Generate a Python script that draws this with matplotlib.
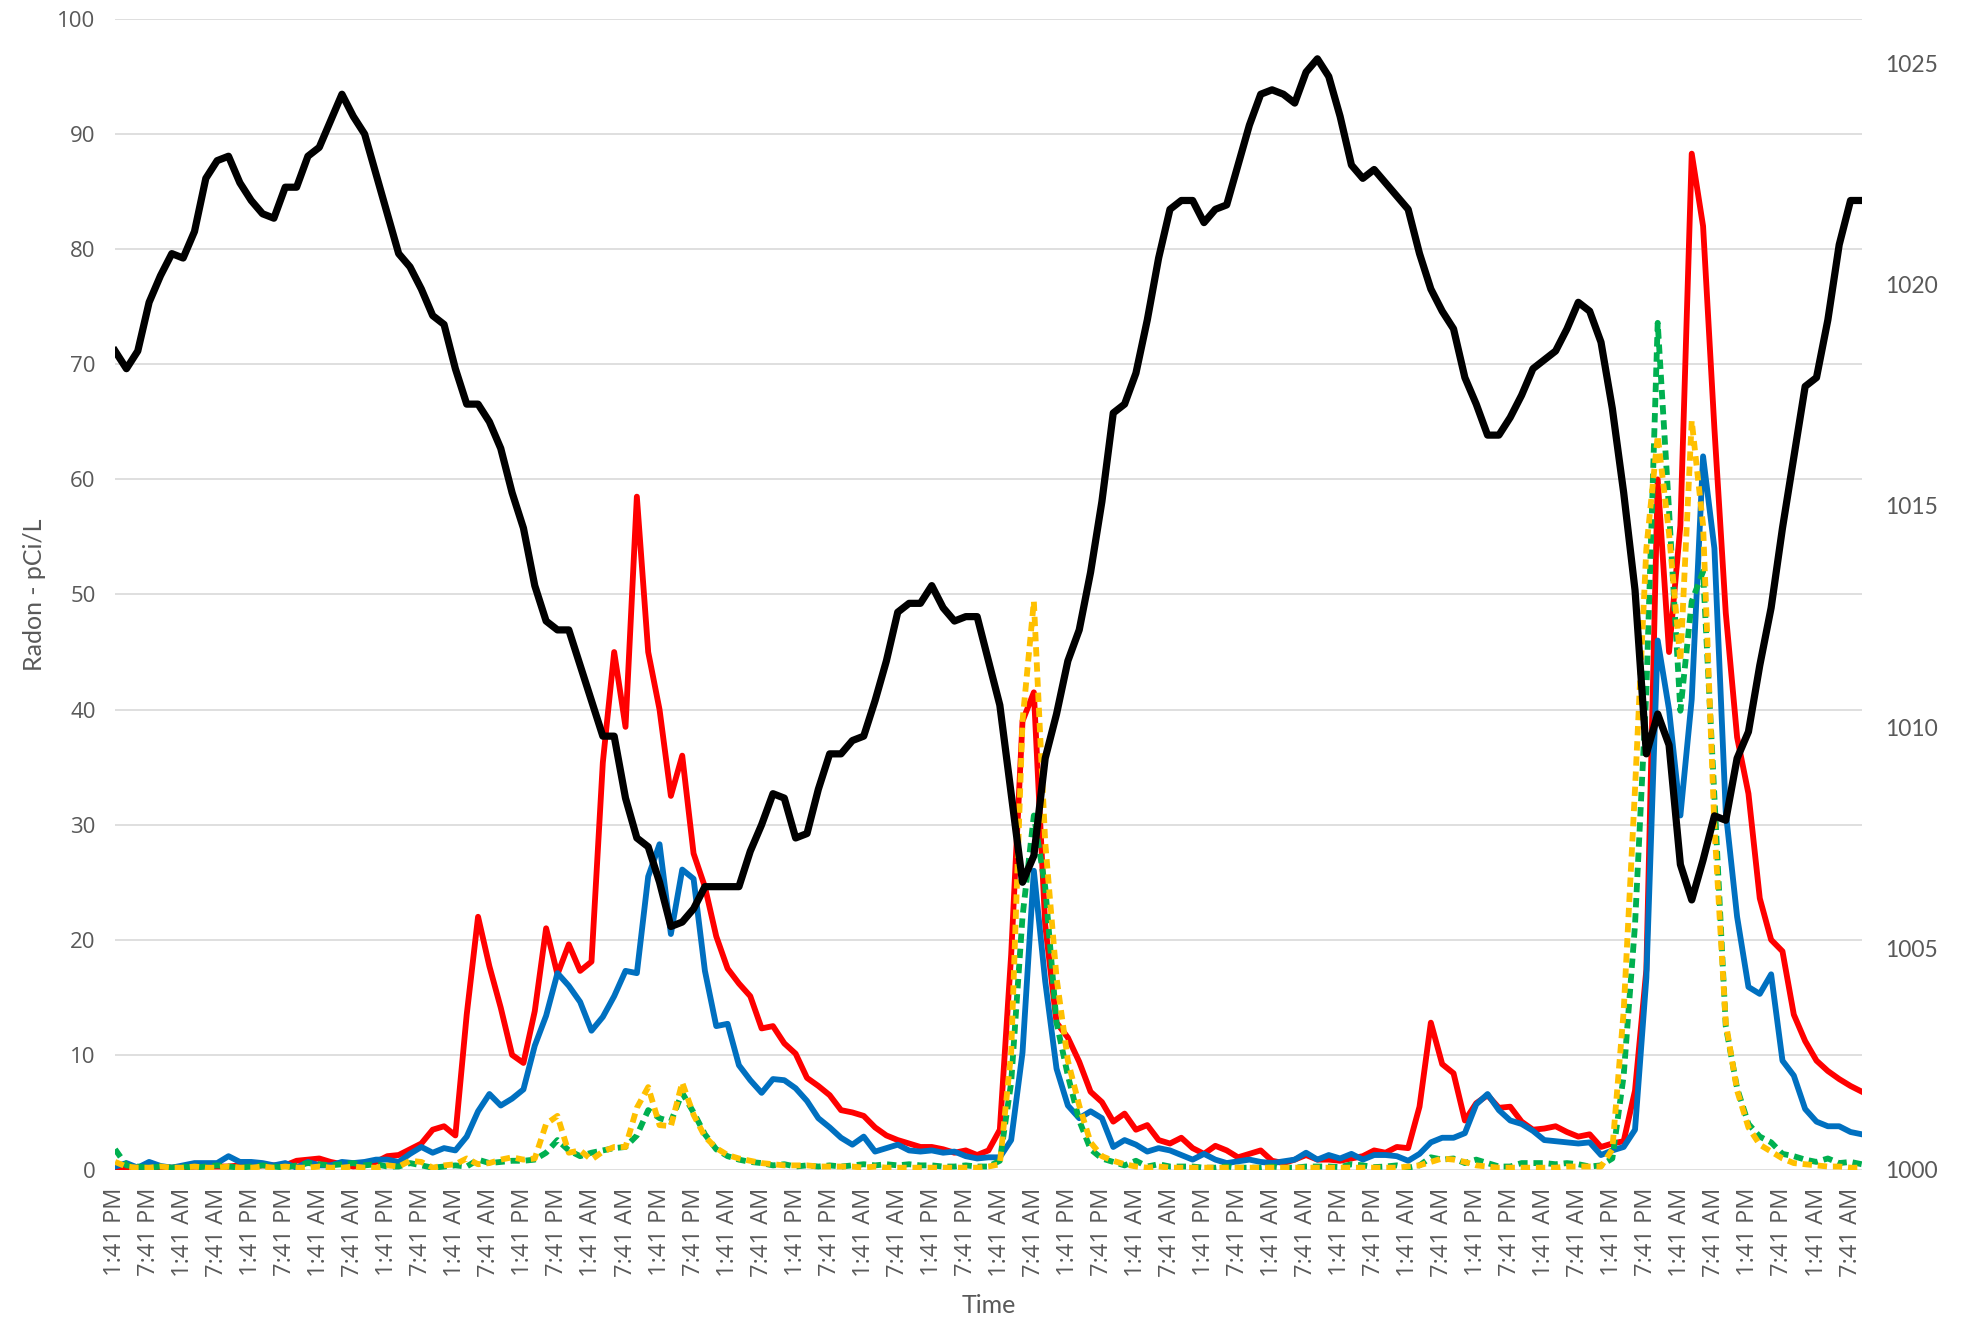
import numpy as np
import matplotlib
matplotlib.use('agg')
import matplotlib.pyplot as plt

# time axis: one reading every 2 hours, hour 0 = first "1:41 PM"
hours = np.arange(0, 309, 2)
tick_hours = np.arange(0, 307, 6)
tick_text = ['1:41 PM', '7:41 PM', '1:41 AM', '7:41 AM'] * 13

# radon, pCi/L (left axis)
radon_red = [
    0.2, 0.2, 0.2, 0.3, 0.2, 0.2, 0.2, 0.3, 0.3, 0.3,
    0.3, 0.4, 0.3, 0.4, 0.4, 0.4, 0.8, 0.9, 1.0, 0.7,
    0.5, 0.3, 0.4, 0.7, 1.2, 1.3, 1.8, 2.3, 3.5, 3.8,
    3.0, 13.5, 22.0, 17.7, 14.1, 10.0, 9.3, 13.8, 21.0, 17.0,
    19.6, 17.3, 18.1, 35.4, 45.0, 38.5, 58.5, 45.0, 40.0, 32.5,
    36.0, 27.5, 24.6, 20.3, 17.5, 16.2, 15.1, 12.3, 12.5, 11.0,
    10.1, 8.0, 7.3, 6.5, 5.2, 5.0, 4.7, 3.7, 3.0, 2.6,
    2.3, 2.0, 2.0, 1.8, 1.5, 1.7, 1.3, 1.7, 3.5, 18.7,
    39.0, 41.5, 21.3, 12.8, 11.5, 9.4, 6.8, 5.9, 4.2, 4.9,
    3.5, 3.9, 2.6, 2.3, 2.8, 1.9, 1.4, 2.1, 1.7, 1.1,
    1.4, 1.7, 0.8, 0.6, 0.9, 1.3, 0.9, 0.9, 0.8, 1.0,
    1.2, 1.7, 1.5, 2.0, 1.9, 5.5, 12.8, 9.2, 8.4, 4.3,
    5.8, 6.5, 5.4, 5.5, 4.2, 3.5, 3.6, 3.8, 3.3, 2.9,
    3.1, 2.0, 2.3, 2.5, 6.9, 17.4, 60.0, 45.0, 56.0, 88.3,
    82.0, 64.4, 48.4, 37.6, 32.7, 23.6, 20.0, 19.0, 13.5, 11.2,
    9.5, 8.6, 7.9, 7.3, 6.8,
]
radon_blue = [
    0.3, 0.6, 0.2, 0.7, 0.35, 0.2, 0.4, 0.6, 0.6, 0.6,
    1.2, 0.7, 0.7, 0.6, 0.4, 0.6, 0.2, 0.7, 0.4, 0.4,
    0.7, 0.6, 0.7, 0.9, 0.9, 0.7, 1.4, 2.0, 1.5, 1.9,
    1.7, 2.9, 5.1, 6.6, 5.6, 6.2, 7.0, 10.8, 13.4, 17.1,
    16.0, 14.6, 12.1, 13.3, 15.1, 17.3, 17.1, 25.5, 28.3, 20.5,
    26.1, 25.3, 17.3, 12.5, 12.7, 9.1, 7.8, 6.7, 7.9, 7.8,
    7.1, 6.0, 4.5, 3.7, 2.8, 2.2, 2.9, 1.6, 1.9, 2.2,
    1.7, 1.6, 1.7, 1.5, 1.6, 1.2, 1.0, 1.1, 1.1, 2.6,
    10.2, 26.0, 16.4, 8.8, 5.6, 4.5, 5.1, 4.5, 2.0, 2.6,
    2.2, 1.6, 1.9, 1.7, 1.3, 0.9, 1.4, 0.9, 0.6, 0.75,
    0.9, 0.7, 0.6, 0.75, 0.9, 1.5, 0.9, 1.3, 1.0, 1.4,
    0.9, 1.3, 1.3, 1.2, 0.8, 1.4, 2.4, 2.8, 2.8, 3.2,
    5.7, 6.6, 5.2, 4.3, 4.0, 3.4, 2.6, 2.5, 2.4, 2.3,
    2.4, 1.3, 1.7, 2.0, 3.5, 16.7, 46.0, 40.0, 30.8, 40.9,
    62.0, 54.0, 31.1, 22.0, 15.9, 15.3, 17.0, 9.5, 8.2, 5.3,
    4.2, 3.8, 3.8, 3.3, 3.1,
]
radon_green = [
    1.8, 0.4, 0.3, 0.2, 0.3, 0.2, 0.3, 0.2, 0.3, 0.4,
    0.3, 0.2, 0.3, 0.4, 0.3, 0.2, 0.4, 0.6, 0.5, 0.4,
    0.5, 0.6, 0.4, 0.5, 0.3, 0.3, 0.6, 0.4, 0.2, 0.3,
    0.4, 0.3, 0.9, 0.6, 0.7, 0.8, 0.8, 0.9, 1.5, 2.6,
    1.7, 1.2, 1.5, 1.7, 1.9, 2.0, 3.0, 5.2, 4.5, 4.2,
    6.7, 5.0, 3.1, 1.8, 1.2, 0.9, 0.7, 0.6, 0.4, 0.5,
    0.3, 0.4, 0.3, 0.4, 0.3, 0.4, 0.5, 0.4, 0.5, 0.4,
    0.5, 0.4, 0.4, 0.3, 0.3, 0.4, 0.3, 0.3, 0.8, 7.6,
    22.0, 30.8, 24.6, 12.8, 8.2, 4.3, 1.8, 1.0, 0.7, 0.4,
    0.8, 0.3, 0.5, 0.3, 0.3, 0.3, 0.2, 0.2, 0.3, 0.2,
    0.2, 0.2, 0.3, 0.2, 0.2, 0.3, 0.3, 0.3, 0.25, 0.5,
    0.4, 0.25, 0.3, 0.4, 0.2, 0.4, 1.1, 0.9, 1.0, 0.6,
    0.9, 0.6, 0.3, 0.3, 0.6, 0.6, 0.6, 0.5, 0.6, 0.5,
    0.3, 0.4, 1.0, 8.2, 21.3, 41.6, 73.6, 57.3, 39.9, 49.4,
    52.0, 32.4, 12.5, 7.1, 4.0, 2.9, 2.4, 1.4, 1.2, 0.9,
    0.7, 1.0, 0.6, 0.7, 0.5,
]
radon_yellow = [
    0.7, 0.3, 0.2, 0.2, 0.3, 0.2, 0.2, 0.3, 0.2, 0.2,
    0.3, 0.2, 0.2, 0.3, 0.2, 0.3, 0.2, 0.2, 0.3, 0.2,
    0.2, 0.3, 0.2, 0.2, 0.4, 0.3, 0.8, 0.7, 0.2, 0.4,
    0.5, 1.0, 0.5, 0.6, 0.9, 1.1, 0.9, 1.0, 4.0, 4.7,
    1.5, 1.7, 0.9, 1.6, 2.0, 2.0, 5.4, 7.2, 3.9, 3.8,
    7.6, 4.8, 2.9, 1.9, 1.3, 1.0, 0.8, 0.6, 0.5, 0.4,
    0.4, 0.4, 0.3, 0.3, 0.3, 0.3, 0.2, 0.3, 0.2, 0.2,
    0.2, 0.2, 0.2, 0.2, 0.2, 0.2, 0.2, 0.3, 0.5, 10.2,
    39.0, 49.4, 28.5, 16.7, 9.5, 5.6, 2.4, 1.2, 0.8, 0.5,
    0.3, 0.2, 0.3, 0.2, 0.2, 0.2, 0.2, 0.2, 0.2, 0.2,
    0.2, 0.2, 0.2, 0.2, 0.2, 0.2, 0.2, 0.2, 0.2, 0.2,
    0.2, 0.2, 0.2, 0.2, 0.3, 0.4, 0.7, 1.0, 0.9, 0.7,
    0.4, 0.3, 0.2, 0.2, 0.2, 0.2, 0.2, 0.2, 0.3, 0.3,
    0.3, 0.3, 1.8, 13.8, 33.1, 54.0, 63.8, 55.3, 44.2, 65.1,
    56.0, 29.8, 12.8, 6.9, 3.7, 2.2, 1.6, 1.0, 0.6, 0.5,
    0.4, 0.3, 0.3, 0.2, 0.2,
]
# barometric pressure (right axis)
pressure = [
    1018.5, 1018.1, 1018.5, 1019.6, 1020.2, 1020.7, 1020.6, 1021.2, 1022.4, 1022.8,
    1022.9, 1022.3, 1021.9, 1021.6, 1021.5, 1022.2, 1022.2, 1022.9, 1023.1, 1023.7,
    1024.3, 1023.8, 1023.4, 1022.5, 1021.6, 1020.7, 1020.4, 1019.9, 1019.3, 1019.1,
    1018.1, 1017.3, 1017.3, 1016.9, 1016.3, 1015.3, 1014.5, 1013.2, 1012.4, 1012.2,
    1012.2, 1011.4, 1010.6, 1009.8, 1009.8, 1008.4, 1007.5, 1007.3, 1006.5, 1005.5,
    1005.6, 1005.9, 1006.4, 1006.4, 1006.4, 1006.4, 1007.2, 1007.8, 1008.5, 1008.4,
    1007.5, 1007.6, 1008.6, 1009.4, 1009.4, 1009.7, 1009.8, 1010.6, 1011.5, 1012.6,
    1012.8, 1012.8, 1013.2, 1012.7, 1012.4, 1012.5, 1012.5, 1011.5, 1010.5, 1008.5,
    1006.5, 1007.1, 1009.3, 1010.3, 1011.5, 1012.2, 1013.5, 1015.1, 1017.1, 1017.3,
    1018.0, 1019.2, 1020.6, 1021.7, 1021.9, 1021.9, 1021.4, 1021.7, 1021.8, 1022.7,
    1023.6, 1024.3, 1024.4, 1024.3, 1024.1, 1024.8, 1025.1, 1024.7, 1023.8, 1022.7,
    1022.4, 1022.6, 1022.3, 1022.0, 1021.7, 1020.7, 1019.9, 1019.4, 1019.0, 1017.9,
    1017.3, 1016.6, 1016.6, 1017.0, 1017.5, 1018.1, 1018.3, 1018.5, 1019.0, 1019.6,
    1019.4, 1018.7, 1017.2, 1015.3, 1013.1, 1009.4, 1010.3, 1009.6, 1006.9, 1006.1,
    1007.0, 1008.0, 1007.9, 1009.3, 1009.9, 1011.4, 1012.7, 1014.5, 1016.1, 1017.7,
    1017.9, 1019.2, 1020.9, 1021.9, 1021.9,
]

GRAY = '#595959'
SANS = ['Open Sans', 'DejaVu Sans']
NARROW = ['Lato', 'DejaVu Sans']

fig = plt.figure(figsize=(19.64, 13.18), dpi=100)
ax = fig.add_axes([0.0586, 0.1123, 0.8894, 0.8733])

ax.plot(hours, radon_red, color='#FF0000', lw=4.2, solid_joinstyle='round')
ax.plot(hours, radon_blue, color='#0070C0', lw=4.2, solid_joinstyle='round')
ax.plot(hours, radon_green, color='#00B050', lw=4.2, linestyle=(0, (1.6, 1.0)))
ax.plot(hours, radon_yellow, color='#FFC000', lw=4.2, linestyle=(0, (1.6, 1.0)))

ax.set_xlim(0, 308)
ax.set_ylim(0, 100)
ax.set_yticks(range(0, 101, 10))
ax.grid(axis='y', color='#D9D9D9', lw=1.2)
ax.set_axisbelow(True)
for s in ax.spines.values():
    s.set_visible(False)
ax.set_xticks(tick_hours)
ax.set_xticklabels(tick_text, rotation=90, family=SANS, fontsize=17, color=GRAY)
ax.tick_params(axis='both', length=0)
ax.tick_params(axis='x', pad=13)
ax.tick_params(axis='y', pad=14)
for lbl in ax.get_yticklabels():
    lbl.set_family(SANS)
    lbl.set_fontsize(16)
    lbl.set_color(GRAY)
ax.set_ylabel('Radon - pCi/L', family=NARROW, fontsize=18, color=GRAY, labelpad=8)
ax.set_xlabel('Time', family=NARROW, fontsize=18, color=GRAY, labelpad=12)

ax2 = ax.twinx()
ax2.plot(hours, pressure, color='black', lw=5.2, solid_joinstyle='round')
ax2.set_ylim(1000, 1026)
ax2.set_yticks(range(1000, 1026, 5))
for s in ax2.spines.values():
    s.set_visible(False)
ax2.tick_params(axis='y', length=0, pad=17)
for lbl in ax2.get_yticklabels():
    lbl.set_family(NARROW)
    lbl.set_fontsize(16.5)
    lbl.set_color(GRAY)

fig.savefig('out.png', dpi=100)
